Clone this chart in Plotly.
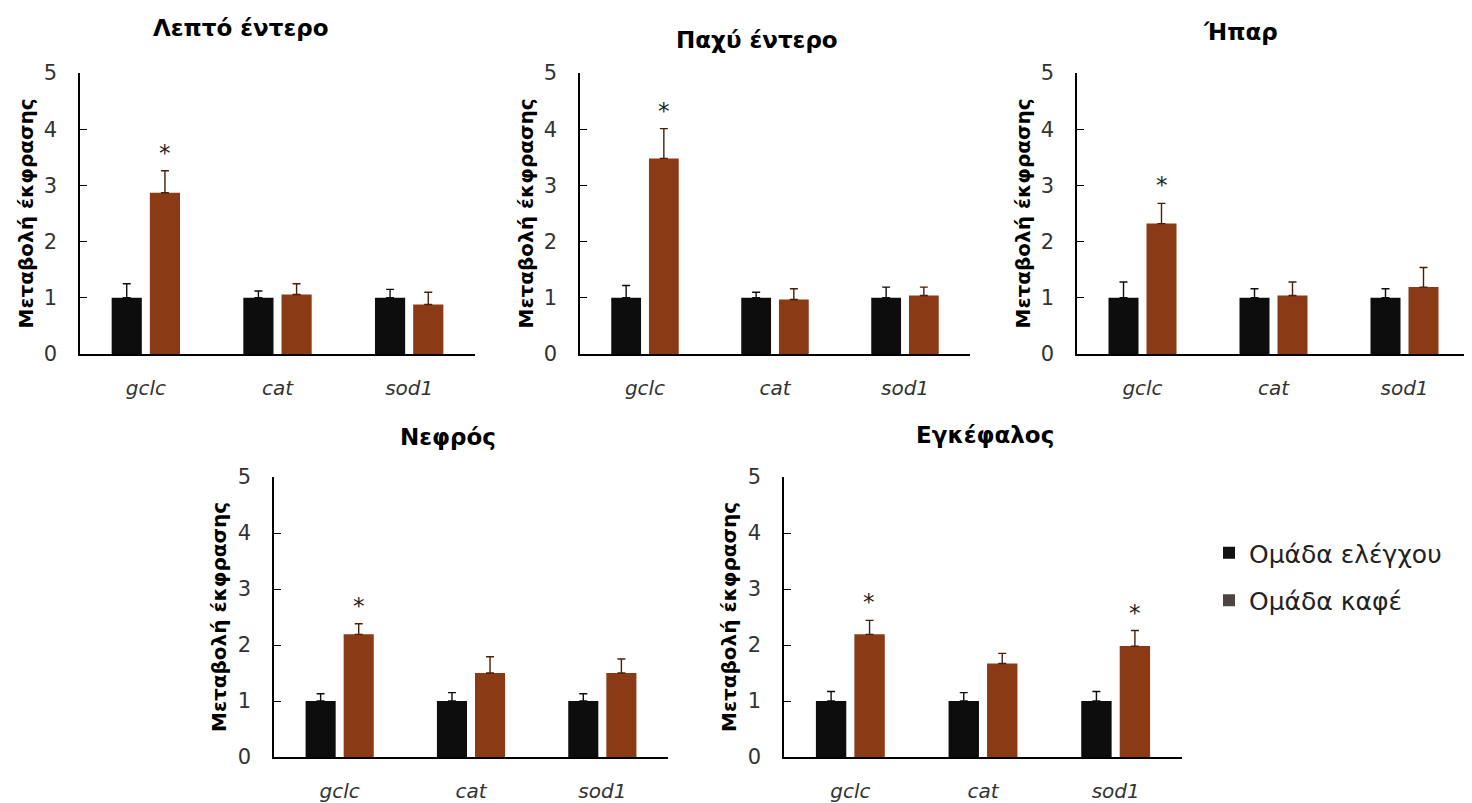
import plotly.graph_objects as go

# page body has an 8px margin; figure is sized to fit inside the window
OFF = 8
W, H = 1464, 795

genes = ["gclc", "cat", "sod1"]
panel_titles = ["Λεπτό έντερο", "Παχύ έντερο", "Ήπαρ", "Νεφρός", "Εγκέφαλος"]
legend_names = ["Ομάδα ελέγχου", "Ομάδα καφέ"]
y_title = "Μεταβολή έκφρασης"
y_ticks = [0, 1, 2, 3, 4, 5]

control_mean = [
    [1.0, 1.0, 1.0],
    [1.0, 1.0, 1.0],
    [1.0, 1.0, 1.0],
    [1.0, 1.0, 1.0],
    [1.0, 1.0, 1.0],
]
control_err = [
    [0.25, 0.12, 0.15],
    [0.22, 0.10, 0.19],
    [0.28, 0.16, 0.16],
    [0.13, 0.15, 0.13],
    [0.17, 0.15, 0.17],
]
coffee_mean = [
    [2.87, 1.06, 0.88],
    [3.48, 0.97, 1.04],
    [2.32, 1.04, 1.19],
    [2.19, 1.50, 1.50],
    [2.19, 1.67, 1.98],
]
coffee_err = [
    [0.39, 0.19, 0.22],
    [0.53, 0.19, 0.15],
    [0.36, 0.24, 0.35],
    [0.19, 0.29, 0.25],
    [0.25, 0.18, 0.28],
]
significant = [
    [True, False, False],
    [True, False, False],
    [True, False, False],
    [True, False, False],
    [True, False, True],
]


def px(x):
    return (x - OFF) / W


def py(y):
    return 1 - (y - OFF) / H


# layout in window pixels: (x_left, x_right, y_top(=5), y_bottom(=0))
boxes = [
    (80, 475, 73, 354),
    (580, 970, 73, 354),
    (1077, 1470, 73, 354),
    (274, 668, 477, 757),
    (784, 1182, 477, 757),
]
title_pos = [(241, 28), (757, 40), (1240, 32), (448, 437), (985, 435)]

CTRL = "#0d0d0d"
COF = "#8a3a14"
COF_ERR = "#4a1e08"
FONT = "DejaVu Sans"

fig = go.Figure()
annotations = []
layout = {}

for i in range(5):
    ax = "" if i == 0 else str(i + 1)
    xl, xr, yt, yb = boxes[i]
    fig.add_trace(go.Bar(
        x=genes, y=control_mean[i], xaxis="x" + ax, yaxis="y" + ax,
        marker=dict(color=CTRL, line=dict(width=0)), showlegend=False,
        error_y=dict(type="data", array=control_err[i], arrayminus=[0] * 3,
                     symmetric=False, color=CTRL, thickness=1.4, width=4),
        hoverinfo="x+y",
    ))
    fig.add_trace(go.Bar(
        x=genes, y=coffee_mean[i], xaxis="x" + ax, yaxis="y" + ax,
        marker=dict(color=COF, line=dict(width=0)), showlegend=False,
        error_y=dict(type="data", array=coffee_err[i], arrayminus=[0] * 3,
                     symmetric=False, color=COF_ERR, thickness=1.4, width=4),
        hoverinfo="x+y",
    ))
    layout["xaxis" + ax] = dict(
        domain=[px(xl), px(xr)], anchor="y" + ax, type="category",
        showline=True, linecolor="black", linewidth=1.5, ticks="",
        tickmode="array", tickvals=genes,
        ticktext=["<i>%s</i>" % g for g in genes],
        tickfont=dict(family=FONT, size=20, color="#333333"),
        ticklabelstandoff=15, showgrid=False, zeroline=False, fixedrange=True,
        automargin=False,
    )
    layout["yaxis" + ax] = dict(
        domain=[py(yb), py(yt)], anchor="x" + ax, range=[0, 5],
        showline=True, linecolor="black", linewidth=1.5,
        ticks="inside", ticklen=7, tickcolor="black", tickwidth=1,
        tickvals=y_ticks, tickfont=dict(family=FONT, size=21, color="#333333"),
        ticklabelstandoff=17, showgrid=False, zeroline=False, fixedrange=True,
        automargin=False,
    )
    # panel title
    tx, ty = title_pos[i]
    annotations.append(dict(
        text="<b>%s</b>" % panel_titles[i], x=px(tx), y=py(ty),
        xref="paper", yref="paper", showarrow=False, xanchor="center",
        yanchor="middle", font=dict(family=FONT, size=23, color="black"),
    ))
    # y axis title
    annotations.append(dict(
        text="<b>%s</b>" % y_title, x=px(xl - 55), y=py((yt + yb) / 2),
        xref="paper", yref="paper", showarrow=False, textangle=-90,
        xanchor="center", yanchor="middle",
        font=dict(family=FONT, size=20, color="black"),
    ))
    # significance stars
    for j, g in enumerate(genes):
        if significant[i][j]:
            annotations.append(dict(
                text="*", x=g, y=coffee_mean[i][j] + coffee_err[i][j] + 0.32,
                xref="x" + ax, yref="y" + ax, xshift=19, showarrow=False,
                xanchor="center", yanchor="middle",
                font=dict(family=FONT, size=23, color="#222222"),
            ))

# legend-only markers
for name, col, grp in [(legend_names[0], "#111111", "a"), (legend_names[1], "#4f4540", "b")]:
    fig.add_trace(go.Scatter(
        x=[None], y=[None], mode="markers", name=name, legendgroup=grp,
        marker=dict(symbol="square", size=13, color=col), xaxis="x", yaxis="y",
    ))

fig.update_layout(
    width=W, height=H, margin=dict(l=0, r=0, t=0, b=0, autoexpand=False),
    paper_bgcolor="white", plot_bgcolor="white",
    barmode="group", bargap=0.42, bargroupgap=0.21,
    annotations=annotations,
    showlegend=True,
    legend=dict(x=px(1209), y=py(530), xanchor="left", yanchor="top",
                font=dict(family=FONT, size=25, color="#222222"),
                tracegroupgap=12, bgcolor="rgba(0,0,0,0)", itemsizing="constant"),
    **layout,
)

fig.write_html("out.html")
